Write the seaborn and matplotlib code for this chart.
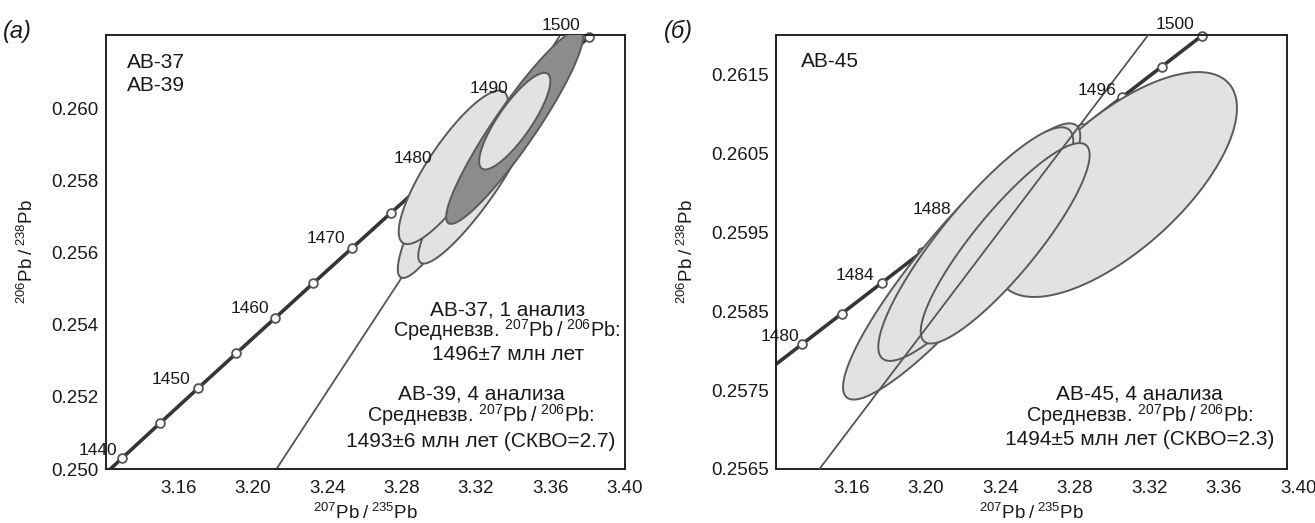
import numpy as np
import pandas as pd
import matplotlib
matplotlib.use("Agg")
import matplotlib.pyplot as plt
import seaborn as sns

# ---------------- data: panel (а) ----------------
conc_age_a = [1435, 1440, 1445, 1450, 1455, 1460, 1465, 1470, 1475, 1480, 1485, 1490, 1495, 1500]
conc_x_a = [3.1093, 3.1296, 3.1500, 3.1705, 3.1911, 3.2118, 3.2326, 3.2534, 3.2744, 3.2955, 3.3167, 3.3381, 3.3595, 3.3810]
conc_y_a = [0.24933, 0.25030, 0.25127, 0.25224, 0.25321, 0.25418, 0.25516, 0.25613, 0.25711, 0.25808, 0.25906, 0.26004, 0.26101, 0.26199]
label_age_a = [1440, 1450, 1460, 1470, 1480, 1490, 1500]
disc_x_a = [3.2127, 3.3650]
disc_y_a = [0.2500, 0.2620]
# ellipses: centre x, centre y, half-range x, half-range y, correlation, tone
ell_cx_a = [3.3020, 3.3190, 3.3079, 3.3409, 3.34095]
ell_cy_a = [0.25735, 0.25780, 0.25837, 0.259495, 0.25965]
ell_sx_a = [0.0240, 0.0300, 0.0294, 0.03685, 0.01915]
ell_sy_a = [0.00205, 0.00210, 0.00213, 0.002695, 0.00134]
ell_r_a = [0.88, 0.90, 0.84, 0.93, 0.83]
ell_tone_a = ["light", "light", "light", "dark", "light"]

# ---------------- data: panel (б) ----------------
conc_age_b = [1478, 1480, 1482, 1484, 1486, 1488, 1490, 1492, 1494, 1496, 1498, 1500]
conc_x_b = [3.1117, 3.1332, 3.1547, 3.1762, 3.1977, 3.2192, 3.2407, 3.2622, 3.2837, 3.3052, 3.3267, 3.3482]
conc_y_b = [0.25769, 0.25808, 0.25847, 0.25886, 0.25925, 0.25964, 0.26004, 0.26043, 0.26082, 0.26121, 0.26160, 0.26199]
label_age_b = [1480, 1484, 1488, 1496, 1500]
disc_x_b = [3.1420, 3.3200]
disc_y_b = [0.25648, 0.26202]
ell_cx_b = [3.30225, 3.2191, 3.2267, 3.2425]
ell_cy_b = [0.260105, 0.25913, 0.25935, 0.25936]
ell_sx_b = [0.06485, 0.06375, 0.0524, 0.0454]
ell_sy_b = [0.001425, 0.00175, 0.00148, 0.00127]
ell_r_b = [0.68, 0.91, 0.88, 0.88]
ell_tone_b = ["light", "light", "light", "light"]

xt_a = [3.16, 3.20, 3.24, 3.28, 3.32, 3.36, 3.40]
xt_b = [3.16, 3.20, 3.24, 3.28, 3.32, 3.36, 3.40]
xminor_b = [3.1441, 3.1691, 3.1941, 3.2191, 3.2441, 3.2691, 3.2941, 3.3191, 3.3441, 3.3691]
yt_a = [0.250, 0.252, 0.254, 0.256, 0.258, 0.260]
yt_b = [0.2565, 0.2575, 0.2585, 0.2595, 0.2605, 0.2615]

# ---------------- style ----------------
sns.set_theme(style="white")
plt.rcParams["font.family"] = ["Liberation Sans", "DejaVu Sans"]
plt.rcParams["mathtext.fontset"] = "custom"
plt.rcParams["mathtext.rm"] = "Liberation Sans"
plt.rcParams["mathtext.it"] = "Liberation Sans:italic"
plt.rcParams["mathtext.bf"] = "Liberation Sans:bold"

LIGHT = "#e2e2e2"
DARK = "#8c8c8c"
EDGE = "#5a5a5a"
CONC = "#353535"
TXT = "#1a1a1a"
FS_TICK = 13.5
FS_TXT = 15
FS_RATIO = 14.3
RATIO = "Средневзв. $^{207}$Pb\u2009/\u2009$^{206}$Pb:"

fig = plt.figure(figsize=(13.15, 5.23), dpi=100)
axA = fig.add_axes([105.5 / 1315, 54 / 523, 519 / 1315, 434 / 523])
axB = fig.add_axes([776 / 1315, 54 / 523, 511 / 1315, 434 / 523])


def ellipse(ax, cx, cy, sx, sy, r, tone, z):
    t = np.linspace(0, 2 * np.pi, 300)
    ex = cx + sx * np.cos(t)
    ey = cy + sy * (r * np.cos(t) + np.sqrt(1 - r * r) * np.sin(t))
    ax.fill(ex, ey, facecolor=LIGHT if tone == "light" else DARK,
            edgecolor=EDGE, lw=1.4, zorder=z)


def concordia(ax, ages, xs, ys, lab_ages, offsets):
    df = pd.DataFrame({"age": ages, "x": xs, "y": ys})
    sns.lineplot(data=df, x="x", y="y", sort=False, estimator=None,
                 color=CONC, lw=2.6, ax=ax, zorder=2)
    vis = df[(df.x >= ax.get_xlim()[0])]
    sns.scatterplot(data=vis, x="x", y="y", s=40, color="white",
                    edgecolor="#555555", linewidth=1.3, ax=ax, zorder=2.5,
                    clip_on=False)
    for a in lab_ages:
        row = df[df.age == a].iloc[0]
        dx, dy = offsets[a]
        ax.annotate(str(a), (row.x, row.y), xytext=(dx, dy),
                    textcoords="offset pixels", ha="center", va="center",
                    fontsize=12.5, color=TXT, annotation_clip=False, zorder=6)


def frame(ax):
    for s in ax.spines.values():
        s.set_color("#222222")
        s.set_linewidth(1.4)
    ax.tick_params(which="both", direction="in", color="#222222",
                   width=1.1, labelsize=FS_TICK, labelcolor=TXT)
    ax.tick_params(axis="x", which="both", pad=8)
    ax.tick_params(axis="y", which="both", pad=5)
    ax.set_xlabel("$^{207}$Pb\u2009/\u2009$^{235}$Pb", fontsize=13.5, color=TXT, labelpad=4)
    ax.set_ylabel("$^{206}$Pb\u2009/\u2009$^{238}$Pb", fontsize=13.5, color=TXT, labelpad=10)


# ---------------- panel (а) ----------------
axA.set_xlim(3.1207, 3.40)
axA.set_ylim(0.250, 0.26204)
concordia(axA, conc_age_a, conc_x_a, conc_y_a, label_age_a,
          {1440: (-24, 8), 1450: (-27, 9), 1460: (-25, 10), 1470: (-26, 10),
           1480: (-17, 19), 1490: (-20, 19), 1500: (-28, 11)})
sns.lineplot(x=disc_x_a, y=disc_y_a, color="#555555", lw=1.3, ax=axA, zorder=2)
for i in range(len(ell_cx_a)):
    ellipse(axA, ell_cx_a[i], ell_cy_a[i], ell_sx_a[i], ell_sy_a[i], ell_r_a[i],
            ell_tone_a[i], 3 + i * 0.1)
axA.set_xticks(xt_a)
axA.set_xticklabels([f"{v:.2f}" for v in xt_a])
axA.set_xticks([3.14, 3.18, 3.22, 3.26, 3.30, 3.34, 3.38], minor=True)
axA.set_yticks(yt_a)
axA.set_yticklabels([f"{v:.3f}" for v in yt_a])
axA.set_yticks([0.251, 0.253, 0.255, 0.257, 0.259, 0.261], minor=True)
axA.tick_params(which="both", length=5)
frame(axA)
axA.text(0.041, 0.923, "АВ-37", transform=axA.transAxes, fontsize=FS_TXT, color=TXT)
axA.text(0.041, 0.8717, "АВ-39", transform=axA.transAxes, fontsize=FS_TXT, color=TXT)
lines_a = [(0.7755, 0.3548, "АВ-37, 1 анализ", FS_TXT),
           (0.7720, 0.3041, RATIO, FS_RATIO),
           (0.7755, 0.2512, "1496±7 млн лет", FS_TXT),
           (0.7235, 0.1590, "АВ-39, 4 анализа", FS_TXT),
           (0.7235, 0.1090, RATIO, FS_RATIO),
           (0.7235, 0.0514, "1493±6 млн лет (СКВО=2.7)", FS_TXT)]
for x, y, s, fs in lines_a:
    axA.text(x, y, s, transform=axA.transAxes, ha="center", va="baseline",
             fontsize=fs, color=TXT, zorder=7)

# ---------------- panel (б) ----------------
axB.set_xlim(3.1193, 3.3940)
axB.set_ylim(0.2565, 0.2620)
concordia(axB, conc_age_b, conc_x_b, conc_y_b, label_age_b,
          {1480: (-22, 8), 1484: (-27, 7), 1488: (-30, 12), 1496: (-25, 7),
           1500: (-27, 11)})
for i in range(len(ell_cx_b)):
    ellipse(axB, ell_cx_b[i], ell_cy_b[i], ell_sx_b[i], ell_sy_b[i], ell_r_b[i],
            ell_tone_b[i], 3 + i * 0.1)
sns.lineplot(x=disc_x_b, y=disc_y_b, color="#555555", lw=1.3, ax=axB, zorder=4)
axB.set_xticks(xt_b[:-1])
axB.set_xticklabels([f"{v:.2f}" for v in xt_b[:-1]])
axB.set_xticks(xminor_b, minor=True)
axB.set_yticks(yt_b)
axB.set_yticklabels([f"{v:.4f}" for v in yt_b])
axB.set_yticks([0.2570, 0.2580, 0.2590, 0.2600, 0.2610], minor=True)
frame(axB)
axB.tick_params(axis="y", which="both", length=5)
axB.tick_params(axis="x", which="major", length=0)
axB.tick_params(axis="x", which="minor", length=5)
axB.annotate(f"{xt_b[-1]:.2f}", (xt_b[-1], 0), xycoords=axB.get_xaxis_transform(),
             xytext=(0, -8 * 100 / 72), textcoords="offset pixels", ha="center",
             va="top", fontsize=FS_TICK, color=TXT, annotation_clip=False)
axB.text(0.049, 0.927, "АВ-45", transform=axB.transAxes, fontsize=FS_TXT, color=TXT)
lines_b = [(0.712, 0.159, "АВ-45, 4 анализа", FS_TXT),
           (0.712, 0.109, RATIO, FS_RATIO),
           (0.712, 0.0553, "1494±5 млн лет (СКВО=2.3)", FS_TXT)]
for x, y, s, fs in lines_b:
    axB.text(x, y, s, transform=axB.transAxes, ha="center", va="baseline",
             fontsize=fs, color=TXT, zorder=7)

fig.text(3 / 1315, 0.927, "(а)", fontsize=17, fontstyle="italic", color=TXT)
fig.text(664 / 1315, 0.927, "(б)", fontsize=17, fontstyle="italic", color=TXT)

fig.savefig("out.png", dpi=100, facecolor="white")
